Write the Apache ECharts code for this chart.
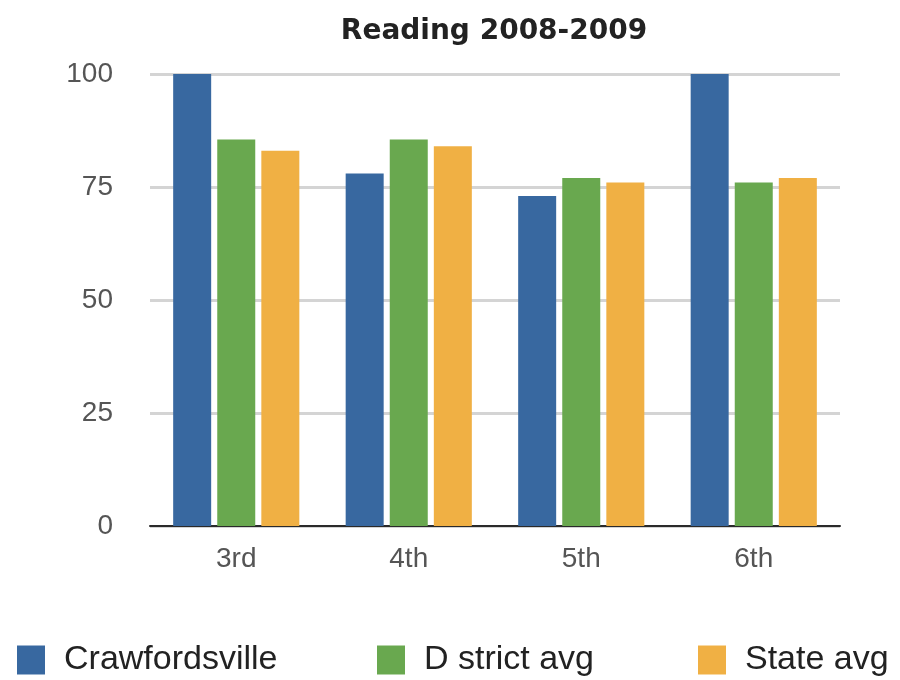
<!DOCTYPE html>
<html>
<head>
<meta charset="utf-8">
<title>Reading 2008-2009</title>
<script src="https://cdn.jsdelivr.net/npm/echarts@6/dist/echarts.min.js"></script>
<style>
  html, body { margin: 0; padding: 0; background: #ffffff; }
  #chart { width: 900px; height: 680px; }
</style>
</head>
<body>
<div id="chart"></div>
<script>
// Grade levels on the category axis
const grades = ['3rd', '4th', '5th', '6th'];

// Reading scores per grade
const crawfordsville = [100, 78, 73, 100];
const districtAvg = [85.5, 85.5, 77, 76];
const stateAvg = [83, 84, 76, 77];

// Value axis range and step
const yMin = 0;
const yMax = 100;
const yStep = 25;

const seriesNames = ['Crawfordsville', 'D strict avg', 'State avg'];
const seriesColors = ['#3868a0', '#69a84f', '#f0b044'];
const seriesData = [crawfordsville, districtAvg, stateAvg];

const labelFont = '"Liberation Sans", Arial, Helvetica, sans-serif';

const chart = echarts.init(document.getElementById('chart'), null, { renderer: 'canvas' });

// one legend block per series so each can sit at its own x position
const legendLefts = [12, 372, 693];

chart.setOption({
  animation: false,
  backgroundColor: '#ffffff',
  title: {
    text: 'Reading 2008-2009',
    left: 489,
    top: 13,
    textAlign: 'center',
    textStyle: {
      fontFamily: '"DejaVu Sans", sans-serif',
      fontWeight: 'bold',
      fontSize: 28,
      color: '#222222'
    }
  },
  legend: seriesNames.map((name, i) => ({
    data: [name],
    left: legendLefts[i],
    top: 638,
    itemWidth: 28,
    itemHeight: 29,
    icon: 'rect',
    selectedMode: false,
    textStyle: {
      fontFamily: labelFont,
      fontSize: 34,
      color: '#222222',
      padding: [0, 0, 0, 14]
    }
  })),
  grid: {
    left: 150,
    right: 60,
    top: 74,
    bottom: 154,
    containLabel: false
  },
  xAxis: {
    type: 'category',
    data: grades,
    axisLine: { show: true, lineStyle: { color: '#2a2a2a', width: 2 } },
    axisTick: { show: false },
    axisLabel: {
      margin: 19,
      fontFamily: labelFont,
      fontSize: 28,
      color: '#555555'
    },
    splitLine: { show: false }
  },
  yAxis: {
    type: 'value',
    min: yMin,
    max: yMax,
    interval: yStep,
    axisLine: { show: false },
    axisTick: { show: false },
    axisLabel: {
      margin: 37,
      fontFamily: labelFont,
      fontSize: 28,
      color: '#555555'
    },
    splitLine: { show: true, lineStyle: { color: '#d4d4d4', width: 3 } }
  },
  series: seriesNames.map((name, i) => ({
    name: name,
    type: 'bar',
    data: seriesData[i],
    barWidth: 38,
    barGap: '16%',
    itemStyle: { color: seriesColors[i] }
  }))
});
</script>
</body>
</html>
